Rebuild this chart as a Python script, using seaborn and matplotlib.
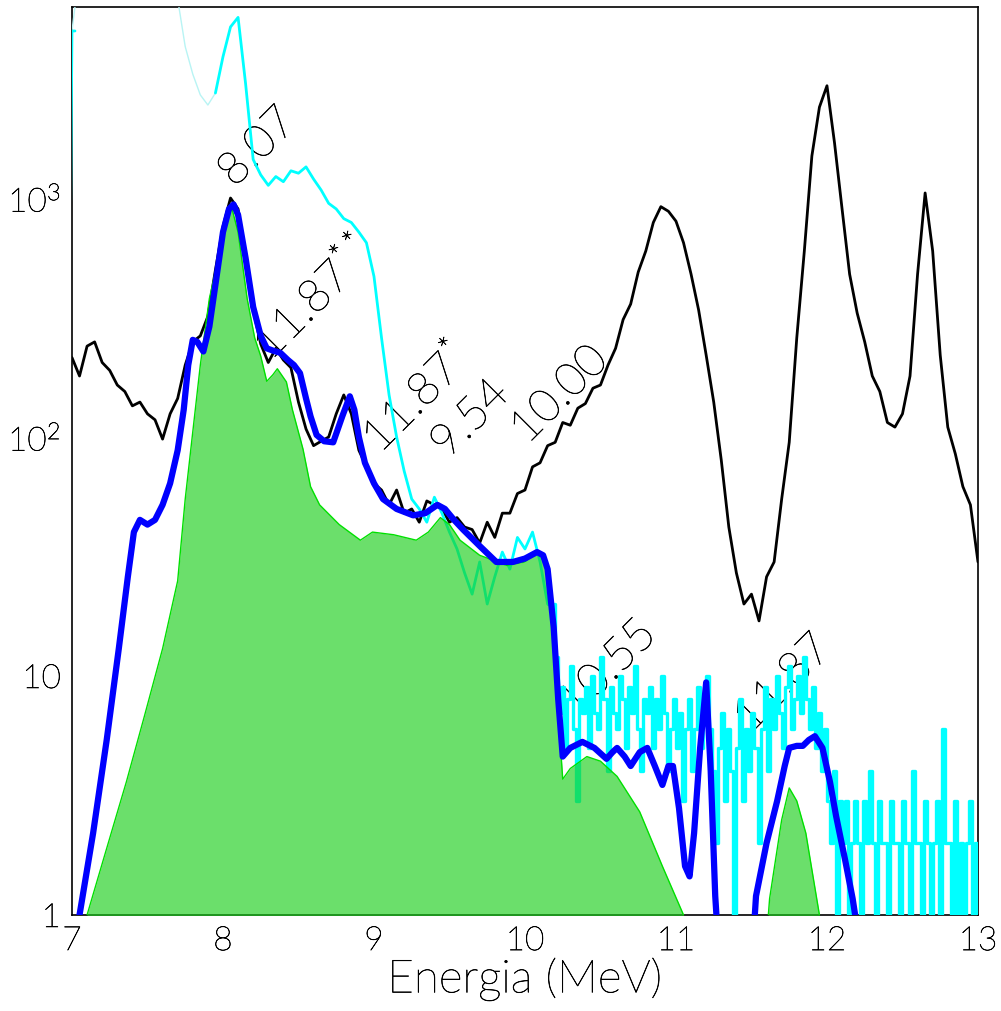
"""
Spettro in energia (MeV): dati, fit e componente simulata, scala logaritmica.
"""

import numpy as np
import pandas as pd
import matplotlib
matplotlib.use('Agg')
import matplotlib.pyplot as plt
import matplotlib.patheffects as pe
import seaborn as sns
from matplotlib.ticker import FixedLocator, FixedFormatter, MultipleLocator, LogLocator, NullFormatter

sns.set_style('white')
plt.rcParams['font.family'] = ['Lato', 'DejaVu Sans']
plt.rcParams['font.weight'] = 'light'
plt.rcParams['mathtext.fontset'] = 'custom'
plt.rcParams['mathtext.rm'] = 'Lato:light'
plt.rcParams['mathtext.it'] = 'Lato:light'
for key in ['text.color', 'axes.labelcolor', 'xtick.color', 'ytick.color']:
    plt.rcParams[key] = 'black'

# thin strokes of the light font are darkened a bit
dark = [pe.withStroke(linewidth=0.45, foreground='black')]

# --- black spectrum: values every 0.05 MeV from 7.00 to 13.00
black_e = np.round(np.arange(7.0, 13.001, 0.05), 2)
black_counts = [
    215, 180, 240, 250, 205, 190, 165, 155, 135, 140,      # 7.00 - 7.45
    125, 118, 98, 125, 145, 200, 250, 265, 320, 500,       # 7.50 - 7.95
    760, 1000, 900, 560, 340, 245, 205, 235, 210, 195,     # 8.00 - 8.45
    140, 108, 92, 96, 100, 125, 150, 125, 88, 75,          # 8.50 - 8.95
    64, 60, 52, 60, 48, 50, 44, 54, 52, 50,                # 9.00 - 9.45
    44, 46, 42, 41, 36, 44, 38, 48, 48, 58,                # 9.50 - 9.95
    60, 75, 78, 92, 95, 115, 112, 132, 138, 160,           # 10.00 - 10.45
    165, 200, 235, 310, 360, 490, 600, 790, 920, 880,      # 10.50 - 10.95
    800, 650, 480, 340, 220, 140, 80, 42, 27, 20,          # 11.00 - 11.45
    22, 17, 26, 30, 55, 95, 260, 600, 1500, 2400,          # 11.50 - 11.95
    2950, 1700, 900, 480, 330, 250, 180, 155, 115, 110,    # 12.00 - 12.45
    125, 180, 480, 1050, 600, 220, 110, 85, 62, 52,        # 12.50 - 12.95
    30,                                                    # 13.00
]

# --- cyan spectrum
cyan_lead_e = [6.95, 7.00, 7.02]
cyan_lead_counts = [0.5, 5000, 5000]

cyan_faint_e = np.round(np.arange(7.0, 7.951, 0.05), 2)
cyan_faint_counts = [5000, 9000, 12000, 14000, 15000, 15000, 14000, 13000, 12000, 11000,
                     10000, 9000, 8000, 7500, 6800, 4300, 3300, 2700, 2450, 2750]

cyan_head_e = np.round(np.arange(7.95, 10.151, 0.05), 2)
cyan_head_counts = [
    2750, 3900, 5200, 5700, 3000, 1450, 1250, 1130, 1230, 1170,
    1300, 1270, 1350, 1200, 1080, 950, 900, 820, 790, 720,
    650, 470, 260, 150, 100, 72, 55, 50, 44, 56,
    48, 40, 34, 27, 22, 30, 20, 26, 33, 28,
    38, 34, 40, 30, 20,
]
cyan_tail_e = np.round(np.arange(10.20, 13.001, 0.02), 2)
cyan_tail_counts = [
    12, 7, 9, 5, 8, 11, 6, 3, 8, 7,      # 10.20
    9, 5, 10, 7, 6, 12, 8, 4, 9, 7,      # 10.40
    6, 10, 8, 5, 9, 7, 11, 6, 4, 8,      # 10.60
    7, 9, 5, 8, 6, 10, 7, 4, 6, 8,       # 10.80
    5, 7, 3, 6, 8, 4, 6, 9, 5, 7,        # 11.00
    10, 6, 4, 2, 5, 7, 3, 6, 4, 1,       # 11.20
    5, 8, 3, 6, 4, 7, 5, 2, 6, 9,        # 11.40
    4, 8, 6, 10, 7, 5, 9, 11, 6, 8,      # 11.60
    10, 7, 12, 8, 6, 9, 5, 7, 4, 6,      # 11.80
    3, 2, 4, 1, 3, 2, 3, 1, 2, 3,        # 12.00
    2, 1, 3, 2, 4, 2, 1, 3, 2, 2,        # 12.20
    1, 3, 2, 2, 1, 3, 2, 1, 4, 2,        # 12.40
    2, 1, 3, 2, 1, 2, 3, 1, 6, 2,        # 12.60
    2, 1, 3, 1, 2, 1, 2, 3, 1, 2,        # 12.80
    1,                                   # 13.00
]

# --- blue fit curve
fit_e = [7.02, 7.05, 7.14, 7.23, 7.31, 7.37, 7.41, 7.45, 7.50, 7.55,
         7.60, 7.65, 7.70, 7.74, 7.77, 7.80, 7.83, 7.87, 7.91, 7.96,
         8.00, 8.04, 8.07, 8.10, 8.15, 8.20, 8.25, 8.29, 8.33, 8.38,
         8.43, 8.47, 8.51, 8.55, 8.58, 8.62, 8.67, 8.73, 8.79, 8.84,
         8.87, 8.90, 8.94, 9.00, 9.06, 9.15, 9.26, 9.34, 9.42, 9.47,
         9.53, 9.59, 9.70, 9.81, 9.92, 10.00, 10.08, 10.12, 10.15, 10.19,
         10.22, 10.25, 10.30, 10.38, 10.46, 10.54, 10.58, 10.61, 10.66, 10.70,
         10.76, 10.81, 10.86, 10.91, 10.95, 10.98, 11.02, 11.06, 11.09, 11.12,
         11.16, 11.20, 11.23, 11.26, 11.29, 11.50, 11.53, 11.60, 11.67, 11.72,
         11.75, 11.80, 11.84, 11.88, 11.92, 11.97, 12.02, 12.06, 12.12, 12.17,
         12.21]
fit_values = [0.7, 1.0, 2.2, 5.4, 13, 26, 40, 45, 43, 45,
              52, 64, 88, 130, 200, 255, 250, 228, 290, 480,
              720, 900, 940, 850, 560, 350, 265, 235, 230, 225,
              210, 200, 185, 145, 122, 102, 96, 95, 122, 148,
              130, 100, 78, 64, 55, 50, 47, 48, 52, 50,
              45, 41, 35, 30, 30, 31, 33, 32, 28, 16,
              8, 4.6, 5.0, 5.3, 5.0, 4.5, 4.8, 5.0, 4.6, 4.2,
              4.8, 5.0, 4.2, 3.5, 4.2, 4.2, 2.8, 1.6, 1.45, 2.2,
              5.0, 9.4, 4.0, 1.2, 0.6, 0.6, 1.2, 2.0, 3.0, 4.2,
              5.0, 5.1, 5.1, 5.4, 5.6, 5.0, 3.6, 2.6, 1.7, 1.17,
              0.8]

# --- green simulated component
sim_e = [7.08, 7.10, 7.23, 7.36, 7.48, 7.60, 7.70, 7.75, 7.80, 7.85,
         7.91, 7.97, 8.02, 8.06, 8.10, 8.16, 8.21, 8.25, 8.29, 8.33,
         8.36, 8.42, 8.46, 8.53, 8.58, 8.64, 8.77, 8.91, 8.99, 9.13,
         9.28, 9.36, 9.44, 9.50, 9.57, 9.70, 9.88, 10.00, 10.08, 10.12,
         10.15, 10.19, 10.22, 10.25, 10.30, 10.41, 10.50, 10.61, 10.76, 10.91,
         11.05, 11.08, 11.60, 11.62, 11.70, 11.75, 11.80, 11.86, 11.92, 11.95,
         11.98]
sim_values = [0.8, 1.0, 1.9, 3.6, 6.8, 13, 25, 55, 105, 200,
              380, 560, 800, 900, 720, 380, 260, 218, 171, 182,
              193, 170, 130, 89, 62, 52, 43, 37, 40, 39,
              37, 40, 46, 43, 37, 32, 29, 30, 33, 32,
              28, 15, 7, 3.7, 4.1, 4.6, 4.4, 3.8, 2.7, 1.6,
              1.0, 0.8, 0.8, 1.17, 2.5, 3.4, 3.0, 2.2, 1.3, 1.0,
              0.8]

# --- peak labels (text, energy, counts)
peak_labels = ['8.07', r'11.87$^{**}$', r'11.87$^{*}$', '9.54', '10.00', '10.55', '11.87']
peak_e = [8.23, 8.60, 9.28, 9.64, 10.23, 10.55, 11.71]
peak_y = [1630, 378, 145, 119, 150, 10.7, 9.3]

black_df = pd.DataFrame({'E': black_e, 'counts': black_counts})
cyan_line_df = pd.concat([
    pd.DataFrame({'E': cyan_lead_e, 'counts': cyan_lead_counts, 'seg': 0}),
    pd.DataFrame({'E': cyan_head_e, 'counts': cyan_head_counts, 'seg': 1}),
], ignore_index=True)
cyan_tail_df = pd.DataFrame({'E': np.concatenate([cyan_head_e[-1:], cyan_tail_e]),
                             'counts': cyan_head_counts[-1:] + cyan_tail_counts})
faint_df = pd.DataFrame({'E': cyan_faint_e, 'counts': cyan_faint_counts})
fit_df = pd.DataFrame({'E': fit_e, 'fit': fit_values})

fig = plt.figure(figsize=(10.01, 10.12), dpi=100)
ax = fig.add_axes([0.0719, 0.0949, 0.9051, 0.8972])
ax.set_yscale('log')

sns.lineplot(data=black_df, x='E', y='counts', color='black', lw=2,
             estimator=None, sort=False, ax=ax, zorder=2)

for t, e, y in zip(peak_labels, peak_e, peak_y):
    ax.text(e, y, t, rotation=45, ha='center', va='center', fontsize=33,
            fontweight='light', color='black', zorder=2.5,
            rotation_mode='anchor', path_effects=dark)

sns.lineplot(data=faint_df, x='E', y='counts', color='#b8f4f4', lw=1,
             estimator=None, sort=False, ax=ax, zorder=2.8)
sns.lineplot(data=cyan_line_df, x='E', y='counts', units='seg', color='#00ffff', lw=2,
             estimator=None, sort=False, ax=ax, zorder=3)
sns.lineplot(data=cyan_tail_df, x='E', y='counts', color='#00ffff', lw=2.4,
             drawstyle='steps-post', estimator=None, sort=False, ax=ax, zorder=3)

ax.fill_between(sim_e, sim_values, 0.5, facecolor='#1ccf1c', alpha=0.65, lw=0, zorder=4)
ax.plot(sim_e, sim_values, color='#00e000', lw=1, zorder=4.1)

sns.lineplot(data=fit_df, x='E', y='fit', color='#0000ff', lw=4.5,
             estimator=None, sort=False, ax=ax, zorder=5)

ax.set_xlim(7, 13)
ax.set_ylim(1, 6300)

ax.xaxis.set_major_locator(MultipleLocator(1))
ax.xaxis.set_minor_locator(MultipleLocator(0.25))
ax.yaxis.set_major_locator(FixedLocator([1, 10, 100, 1000]))
ax.yaxis.set_major_formatter(FixedFormatter(['1', '10', r'10$^{2}$', r'10$^{3}$']))
ax.yaxis.set_minor_locator(LogLocator(base=10, subs=np.arange(2, 10)))
ax.yaxis.set_minor_formatter(NullFormatter())

ax.tick_params(which='both', direction='in', top=False, right=False)
ax.tick_params(which='major', length=11.5, width=1, labelsize=24)
ax.tick_params(axis='x', which='major', pad=8)
ax.tick_params(axis='y', which='major', pad=8)
ax.tick_params(which='minor', length=5.5, width=1)
for s in ax.spines.values():
    s.set_color('black')
    s.set_linewidth(1.2)
for lab in ax.get_xticklabels() + ax.get_yticklabels():
    lab.set_path_effects(dark)

ax.set_xlabel('Energia (MeV)', fontsize=33, fontweight='light', path_effects=dark)
ax.xaxis.set_label_coords(0.5, -0.047)
ax.set_ylabel('')

fig.savefig('out.png', dpi=100)
